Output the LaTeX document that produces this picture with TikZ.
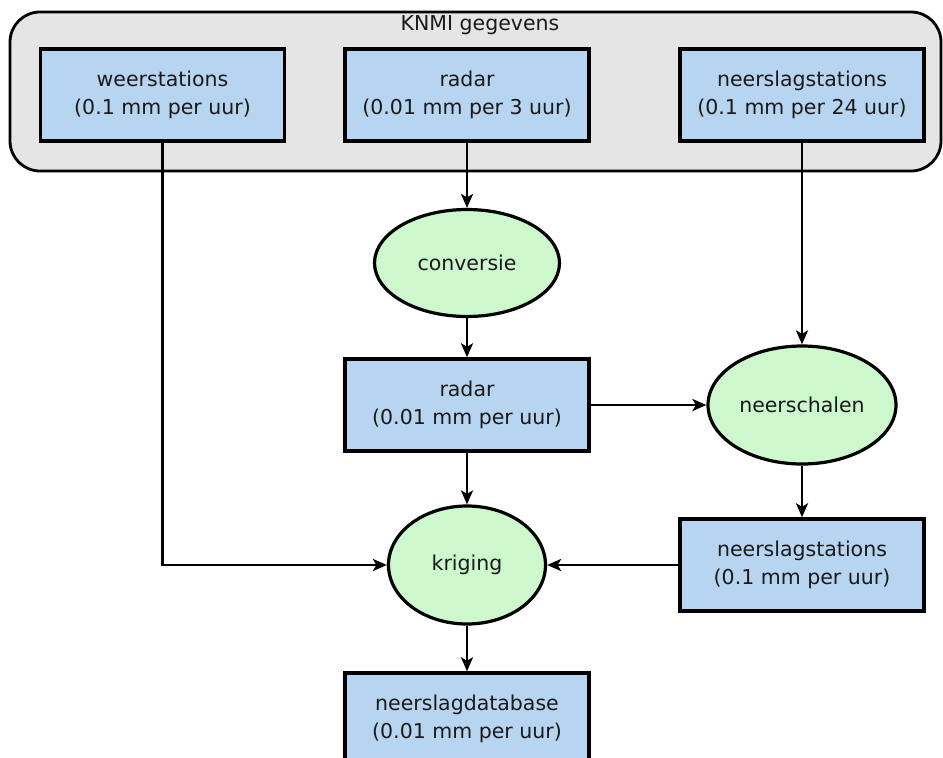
\documentclass[tikz,border=0pt]{standalone}
\usepackage{fontspec}
\setmainfont{DejaVu Sans}
\usetikzlibrary{shapes.geometric,arrows.meta}
\definecolor{boxblue}{HTML}{B7D5F1}
\definecolor{ellgreen}{HTML}{CDF7CD}
\definecolor{groupgray}{HTML}{E5E5E5}
\definecolor{txt}{HTML}{1A1A1A}
\tikzset{
  databox/.style={rectangle, draw=black, line width=3.4pt, fill=boxblue, text=txt,
    minimum width=244pt, minimum height=92pt, align=center, inner sep=0pt,
    font=\fontsize{20.5}{27.5}\selectfont},
  procell/.style={ellipse, draw=black, line width=3.2pt, fill=ellgreen, text=txt,
    inner sep=0pt, font=\fontsize{20.5}{27.5}\selectfont},
  flow/.style={line width=2.6pt, -{Stealth[length=14pt,width=12pt,inset=3.5pt]}}
}
\begin{document}
\begin{tikzpicture}[x=1pt,y=-1pt]
\useasboundingbox (0,0) rectangle (943,758);
\clip (0,0) rectangle (943,758);
% group
\draw[line width=2.8pt, fill=groupgray, rounded corners=30pt] (10,12) rectangle (941,171);
\node[text=txt, font=\fontsize{20.5}{27.5}\selectfont] (title) at (480,25) {KNMI gegevens};
% top boxes
\node[databox] (ws) at (162.5,95) {weerstations\\(0.1 mm per uur)};
\node[databox] (rt) at (467,95) {radar\\(0.01 mm per 3 uur)};
\node[databox] (nt) at (802,95) {neerslagstations\\(0.1 mm per 24 uur)};
% middle
\node[procell, minimum width=185pt, minimum height=107pt] (conv) at (467,263) {conversie};
\node[databox] (rm) at (467,405) {radar\\(0.01 mm per uur)};
\node[procell, minimum width=188pt, minimum height=118pt] (ns) at (802,405) {neerschalen};
\node[databox] (nm) at (802,565) {neerslagstations\\(0.1 mm per uur)};
\node[procell, minimum width=157pt, minimum height=118pt] (kr) at (467,565) {kriging};
\node[databox] (db) at (467,719) {neerslagdatabase\\(0.01 mm per uur)};
% connectors
\draw[flow] (rt) -- (conv);
\draw[flow] (conv) -- (rm);
\draw[flow] (rm.east) -- (ns.west);
\draw[flow] (nt) -- (ns);
\draw[flow] (ns) -- (nm);
\draw[flow] (rm) -- (kr);
\draw[flow] (ws.south) |- (kr.west);
\draw[flow] (nm.west) -- (kr.east);
\draw[flow] (kr) -- (db);
\end{tikzpicture}
\end{document}
